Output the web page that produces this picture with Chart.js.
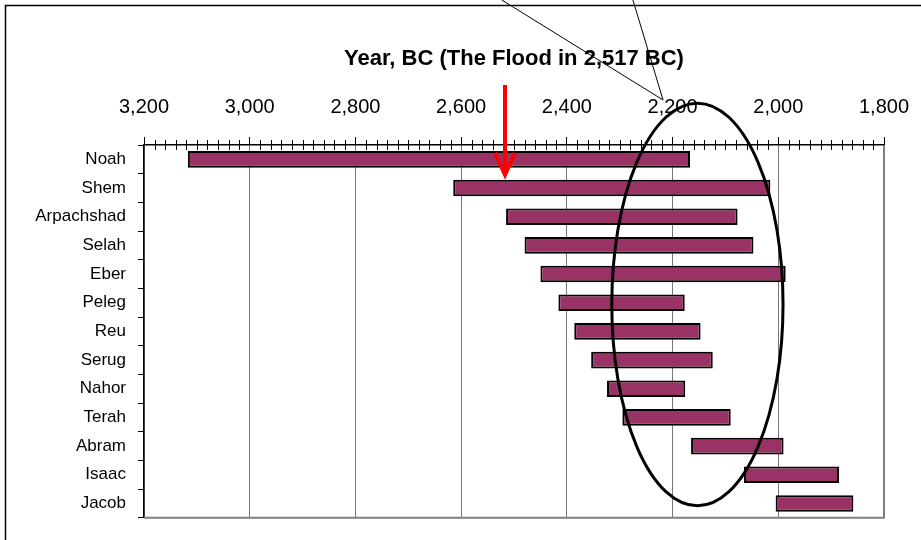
<!DOCTYPE html>
<html>
<head>
<meta charset="utf-8">
<script src="https://cdn.jsdelivr.net/npm/chart.js@4.4.0/dist/chart.umd.min.js"></script>
<style>
  body { margin: 0; background: #fff; }
  #wrap { width: 921px; height: 540px; }
</style>
</head>
<body>
<div id="wrap"><canvas id="c" width="921" height="540"></canvas></div>
<script>
// patriarchs, year of birth / death (BC)
const names = ['Noah', 'Shem', 'Arpachshad', 'Selah', 'Eber', 'Peleg', 'Reu', 'Serug', 'Nahor', 'Terah', 'Abram', 'Isaac', 'Jacob'];
const born  = [3117, 2615, 2515, 2480, 2450, 2416, 2386, 2354, 2324, 2295, 2165, 2065, 2005];
const died  = [2167, 2015, 2077, 2047, 1986, 2177, 2147, 2124, 2176, 2090, 1990, 1885, 1858];

const yearMin = 1800, yearMax = 3200, majorStep = 200, minorStep = 20;
const floodYear = 2517;

const FONT = "'Liberation Sans', Arial, sans-serif";

const extras = {
  id: 'extras',
  beforeDraw(chart) {
    const ctx = chart.ctx;
    ctx.save();
    ctx.strokeStyle = '#000';
    ctx.lineWidth = 1.5;
    ctx.beginPath();
    ctx.moveTo(5.5, chart.height);
    ctx.lineTo(5.5, 5.5);
    ctx.lineTo(chart.width, 5.5);
    ctx.stroke();
    ctx.restore();
  },
  afterDraw(chart) {
    const ctx = chart.ctx;
    const a = chart.chartArea;
    const xs = chart.scales.x, ys = chart.scales.y;
    ctx.save();

    // right / bottom plot border
    ctx.strokeStyle = '#808080';
    ctx.lineWidth = 2;
    ctx.beginPath();
    ctx.moveTo(a.right, a.top);
    ctx.lineTo(a.right, a.bottom);
    ctx.lineTo(a.left, a.bottom);
    ctx.stroke();

    // minor ticks on the top axis
    ctx.strokeStyle = '#000';
    ctx.lineWidth = 1;
    for (let v = yearMin; v <= yearMax; v += minorStep) {
      if (v % majorStep === 0) continue;
      const px = Math.round(xs.getPixelForValue(v)) + 0.5;
      ctx.beginPath();
      ctx.moveTo(px, a.top - 5);
      ctx.lineTo(px, a.top + 5);
      ctx.stroke();
    }

    // ellipse round the overlapping lifetimes
    const cx = xs.getPixelForValue(2153);
    const rx = Math.abs(xs.getPixelForValue(2153 - 162) - cx);
    const yTop = ys.getPixelForValue(-1.96), yBot = ys.getPixelForValue(12.08);
    ctx.lineWidth = 3;
    ctx.beginPath();
    ctx.ellipse(cx, (yTop + yBot) / 2, rx, (yBot - yTop) / 2, 0, 0, Math.PI * 2);
    ctx.stroke();

    // callout lines from above
    const tipX = xs.getPixelForValue(2218), tipY = 100;
    ctx.lineWidth = 1;
    ctx.beginPath();
    ctx.moveTo(xs.getPixelForValue(2523), 0);
    ctx.lineTo(tipX, tipY);
    ctx.moveTo(xs.getPixelForValue(2275), 0);
    ctx.lineTo(tipX, tipY);
    ctx.stroke();

    // red arrow at the flood
    const fx = xs.getPixelForValue(floodYear);
    const ay0 = 85, ay1 = ys.getPixelForValue(0.61);
    ctx.strokeStyle = '#ff0000';
    ctx.lineWidth = 4;
    ctx.beginPath();
    ctx.moveTo(fx, ay0);
    ctx.lineTo(fx, ay1 - 3);
    ctx.stroke();
    ctx.lineJoin = 'miter';
    ctx.beginPath();
    ctx.moveTo(fx - 10, ay1 - 24);
    ctx.lineTo(fx, ay1 - 2);
    ctx.lineTo(fx + 10, ay1 - 24);
    ctx.stroke();

    ctx.restore();
  }
};

new Chart(document.getElementById('c'), {
  type: 'bar',
  data: {
    labels: names,
    datasets: [{
      data: names.map((n, i) => [born[i], died[i]]),
      backgroundColor: '#993366',
      borderColor: '#000',
      borderWidth: 2,
      borderSkipped: false,
      barPercentage: 0.58,
      categoryPercentage: 1
    }]
  },
  options: {
    indexAxis: 'y',
    responsive: false,
    devicePixelRatio: 1,
    animation: false,
    layout: { padding: { top: 46, left: 0, right: 37, bottom: 21 } },
    plugins: { legend: { display: false }, tooltip: { enabled: false } },
    scales: {
      x: {
        position: 'top',
        reverse: true,
        min: yearMin,
        max: yearMax,
        afterFit(s) { s.height = 99; s.paddingLeft = 0; s.paddingRight = 0; },
        ticks: {
          stepSize: majorStep,
          padding: 18,
          color: '#000',
          font: { family: FONT, size: 20 },
          callback: v => v.toLocaleString('en-US')
        },
        grid: { color: '#777', tickColor: '#000', tickLength: 8, lineWidth: 1 },
        border: { display: true, color: '#000', width: 1.5 },
        title: {
          display: true,
          text: 'Year, BC (The Flood in 2,517 BC)',
          color: '#000',
          padding: { top: 0, bottom: 0 },
          font: { family: FONT, size: 22, weight: 'bold' }
        }
      },
      y: {
        afterFit(s) { s.width = 144; },
        ticks: {
          padding: 12,
          color: '#000',
          font: { family: FONT, size: 17 }
        },
        grid: { offset: true, drawOnChartArea: false, color: '#000', tickLength: 6 },
        border: { display: true, color: '#000', width: 1.5 }
      }
    }
  },
  plugins: [extras]
});
</script>
</body>
</html>
